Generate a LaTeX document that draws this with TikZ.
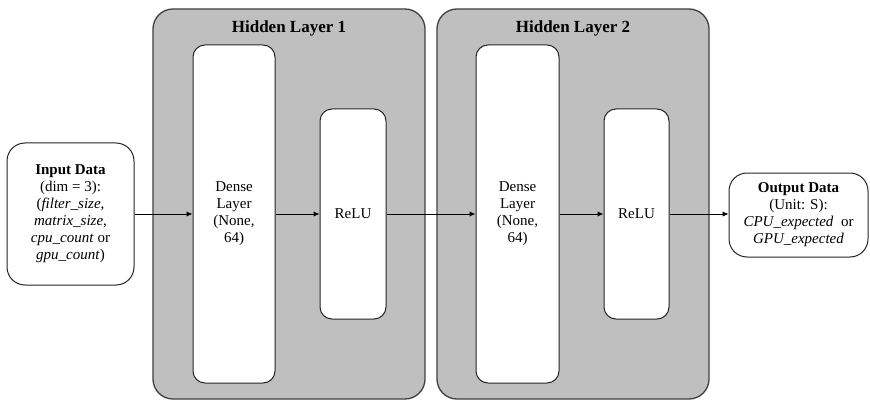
\documentclass[tikz,border=0pt]{standalone}
\usepackage{fontspec}
\setmainfont{Liberation Serif}
\usetikzlibrary{arrows.meta}

\tikzset{
  layerbox/.style={draw=black!75, line width=1.3pt, fill=black!25, rounded corners=20pt,
    minimum width=272pt, minimum height=390pt, inner sep=0pt},
  layertitle/.style={font=\fontsize{17}{19}\selectfont\bfseries},
  opbox/.style={draw=black!85, line width=1pt, fill=white, rounded corners=12pt,
    inner sep=0pt, align=center, font=\fontsize{15}{17}\selectfont},
  iobox/.style={draw=black!85, line width=1pt, fill=white, rounded corners=18pt,
    inner sep=0pt, align=center, font=\fontsize{15}{17}\selectfont},
  flow/.style={draw=black, line width=1pt, -{Latex[length=6pt,width=5.5pt]}}
}

\begin{document}
\begin{tikzpicture}[x=1pt,y=-1pt]
  \useasboundingbox (0,0) rectangle (870,401);

  % hidden layer containers
  \node[layerbox] (hl1) at (289,204) {};
  \node[layerbox] (hl2) at (573,204) {};
  \node[layertitle] (hl1title) at (289,28) {Hidden Layer 1};
  \node[layertitle] (hl2title) at (573,28) {Hidden Layer 2};

  % operations inside the layers
  \node[opbox, minimum width=82pt, minimum height=338pt] (dense1) at (234,214)
    {Dense\\Layer\\(None,\\64)};
  \node[opbox, minimum width=66pt, minimum height=210pt] (relu1) at (353,214) {ReLU};
  \node[opbox, minimum width=83pt, minimum height=338pt] (dense2) at (517.5,214)
    {Dense\\Layer\\(None,\\64)};
  \node[opbox, minimum width=65pt, minimum height=210pt] (relu2) at (636.5,214) {ReLU};

  % input and output
  \node[iobox, minimum width=127pt, minimum height=142pt] (input) at (70.5,214)
    {\textbf{Input Data}\\(dim = 3):\\(\textit{filter\_size},\\\textit{matrix\_size},\\\textit{cpu\_count} or\\\textit{gpu\_count})};
  \node[iobox, minimum width=139pt, minimum height=84pt] (output) at (798.5,215)
    {\textbf{Output Data}\\(Unit: S):\\\textit{CPU\_expected}\ \ or\\\textit{GPU\_expected}};

  % data flow
  \draw[flow] (input.east) -- (input.east -| dense1.west);
  \draw[flow] (dense1.east) -- (relu1.west);
  \draw[flow] (relu1.east) -- (dense2.west);
  \draw[flow] (dense2.east) -- (relu2.west);
  \draw[flow] (relu2.east) -- (relu2.east -| output.west);
\end{tikzpicture}
\end{document}
